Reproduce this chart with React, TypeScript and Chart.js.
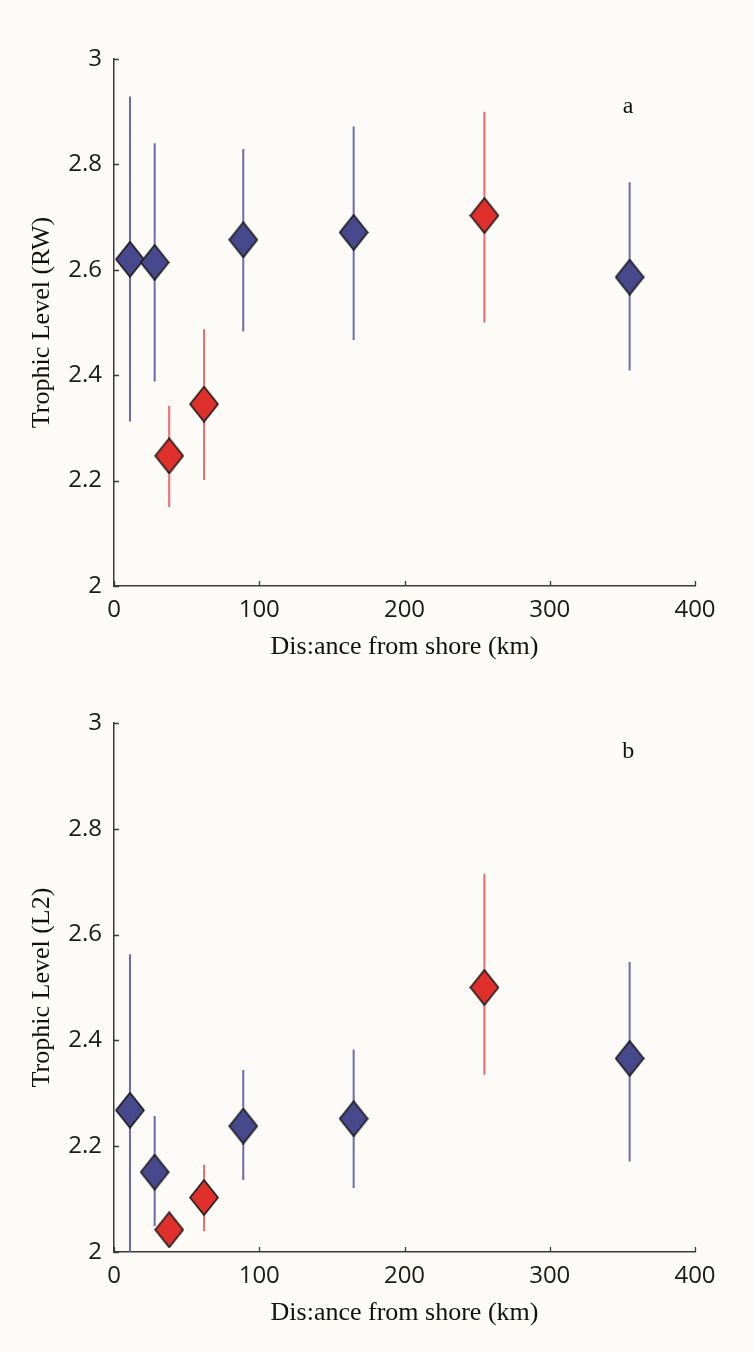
import { useEffect, useRef } from "react";
import { Chart, registerables } from "chart.js";

Chart.register(...registerables);

// Distance of each sampling site from shore (km)
const distanceKm = [11, 28, 38, 62, 89, 165, 255, 355];
// Marker colour group of each site
const siteGroup = ["blue", "blue", "red", "red", "blue", "blue", "red", "blue"];

// Panel a: trophic level (RW) with error range
const rwMean = [2.62, 2.614, 2.247, 2.345, 2.657, 2.671, 2.703, 2.586];
const rwLow = [2.312, 2.388, 2.15, 2.201, 2.483, 2.467, 2.5, 2.409];
const rwHigh = [2.929, 2.84, 2.342, 2.487, 2.829, 2.872, 2.9, 2.766];

// Panel b: trophic level (L2) with error range
const l2Mean = [2.268, 2.151, 2.042, 2.103, 2.238, 2.252, 2.5, 2.366];
const l2Low = [2.0, 2.049, 2.015, 2.039, 2.136, 2.121, 2.335, 2.171];
const l2High = [2.563, 2.257, 2.07, 2.165, 2.344, 2.383, 2.715, 2.548];

const xTicks = [0, 100, 200, 300, 400];
const yTicks = [2, 2.2, 2.4, 2.6, 2.8, 3];

const BG = "#fcfbf8";
const AXIS = "#3a3a3a";
const FILL = { blue: "#48488c", red: "#e0302b" };
const BAR = { blue: "#6b6bb5", red: "#ef6a6a" };

function makeDiamond(fill: string): HTMLCanvasElement {
  const w = 30;
  const h = 37;
  const c = document.createElement("canvas");
  c.width = w;
  c.height = h;
  const ctx = c.getContext("2d")!;
  ctx.beginPath();
  ctx.moveTo(w / 2, 1);
  ctx.lineTo(w - 1, h / 2);
  ctx.lineTo(w / 2, h - 1);
  ctx.lineTo(1, h / 2);
  ctx.closePath();
  ctx.fillStyle = fill;
  ctx.fill();
  ctx.lineWidth = 1.7;
  ctx.strokeStyle = "#1e1e1e";
  ctx.lineJoin = "miter";
  ctx.stroke();
  return c;
}

// Short tick marks pointing into the plot area, plus the panel letter
const innerTicks = {
  id: "innerTicks",
  afterDraw(chart: any, _args: any, opts: any) {
    const { ctx, chartArea, scales } = chart;
    const xs = scales.x;
    const ys = scales.y;
    ctx.save();
    ctx.strokeStyle = AXIS;
    ctx.lineWidth = 1.3;
    ctx.beginPath();
    for (const v of xTicks) {
      const px = Math.round(xs.getPixelForValue(v)) + 0.5;
      ctx.moveTo(px, chartArea.bottom);
      ctx.lineTo(px, chartArea.bottom - 5);
    }
    for (const v of yTicks) {
      const py = Math.round(ys.getPixelForValue(v)) + 0.5;
      ctx.moveTo(chartArea.left, py);
      ctx.lineTo(chartArea.left + 5, py);
    }
    ctx.stroke();
    if (opts && opts.text) {
      ctx.fillStyle = "#111";
      ctx.font = "24px 'Liberation Serif'";
      ctx.textAlign = "center";
      ctx.textBaseline = "middle";
      ctx.fillText(opts.text, xs.getPixelForValue(opts.x), ys.getPixelForValue(opts.y));
    }
    ctx.restore();
  },
};

type PanelProps = {
  mean: number[];
  low: number[];
  high: number[];
  yTitle: string;
  letter: string;
  letterX: number;
  letterY: number;
  top: number;
  padTop: number;
  padBottom: number;
};

function Panel(p: PanelProps) {
  const ref = useRef<HTMLCanvasElement | null>(null);

  useEffect(() => {
    if (!ref.current) return;
    const diamonds: Record<string, HTMLCanvasElement> = {
      blue: makeDiamond(FILL.blue),
      red: makeDiamond(FILL.red),
    };

    const markerSet = (g: "blue" | "red") => ({
      data: distanceKm
        .map((x, i) => ({ x, y: p.mean[i], g: siteGroup[i] }))
        .filter((d) => d.g === g)
        .map((d) => ({ x: d.x, y: d.y })),
      pointStyle: diamonds[g],
      pointRadius: 15,
      showLine: false,
    });

    const barSet = (g: "blue" | "red") => ({
      data: distanceKm.flatMap((x, i) =>
        siteGroup[i] === g
          ? [
              { x, y: p.low[i] },
              { x, y: p.high[i] },
              { x, y: null },
            ]
          : []
      ),
      showLine: true,
      spanGaps: false,
      pointRadius: 0,
      borderColor: BAR[g],
      borderWidth: 2,
    });

    const chart = new Chart(ref.current, {
      type: "scatter",
      data: {
        datasets: [
          markerSet("red"),
          markerSet("blue"),
          barSet("red"),
          barSet("blue"),
        ] as any,
      },
      options: {
        animation: false,
        responsive: false,
        events: [],
        layout: { padding: { top: p.padTop, right: 58, bottom: p.padBottom, left: 0 } },
        plugins: {
          legend: { display: false },
          tooltip: { enabled: false },
          innerTicks: { text: p.letter, x: p.letterX, y: p.letterY },
        } as any,
        scales: {
          x: {
            type: "linear",
            min: 0,
            max: 400,
            afterFit: (s: any) => {
              s.height = 90;
            },
            afterBuildTicks: (s: any) => {
              s.ticks = xTicks.map((v) => ({ value: v }));
            },
            grid: { drawOnChartArea: false, drawTicks: false },
            border: { display: true, color: AXIS, width: 1.5 },
            ticks: {
              padding: 10,
              color: "#1a1a1a",
              font: { family: "'Open Sans'", size: 24 },
              maxRotation: 0,
              callback: (v: any) => String(v),
            },
            title: {
              display: true,
              text: "Dis:ance from shore (km)",
              color: "#111",
              font: { family: "'Liberation Serif'", size: 26 },
              padding: { top: 0, bottom: 13 },
            },
          },
          y: {
            type: "linear",
            min: 2,
            max: 3,
            afterFit: (s: any) => {
              s.width = 114;
            },
            afterBuildTicks: (s: any) => {
              s.ticks = yTicks.map((v) => ({ value: v }));
            },
            grid: { drawOnChartArea: false, drawTicks: false },
            border: { display: true, color: AXIS, width: 1.5 },
            ticks: {
              padding: 12,
              color: "#1a1a1a",
              font: { family: "'Open Sans'", size: 24 },
              callback: (v: any) => String(Number(Number(v).toFixed(1))),
            },
            title: {
              display: true,
              text: p.yTitle,
              color: "#111",
              font: { family: "'Liberation Serif'", size: 26 },
              padding: { top: 27, bottom: 0 },
            },
          },
        },
      },
      plugins: [innerTicks],
    });
    return () => chart.destroy();
  }, []);

  return (
    <canvas
      ref={ref}
      width={753}
      height={676}
      style={{ position: "absolute", left: 0, top: p.top, width: 753, height: 676 }}
    />
  );
}

export default function App() {
  return (
    <div
      style={{
        position: "absolute",
        left: 0,
        top: 0,
        width: 753,
        height: 1352,
        background: BG,
        overflow: "hidden",
      }}
    >
      <Panel
        mean={rwMean}
        low={rwLow}
        high={rwHigh}
        yTitle="Trophic Level (RW)"
        letter="a"
        letterX={354}
        letterY={2.909}
        top={0}
        padTop={59}
        padBottom={0}
      />
      <Panel
        mean={l2Mean}
        low={l2Low}
        high={l2High}
        yTitle="Trophic Level (L2)"
        letter="b"
        letterX={354}
        letterY={2.945}
        top={676}
        padTop={47}
        padBottom={10}
      />
    </div>
  );
}
